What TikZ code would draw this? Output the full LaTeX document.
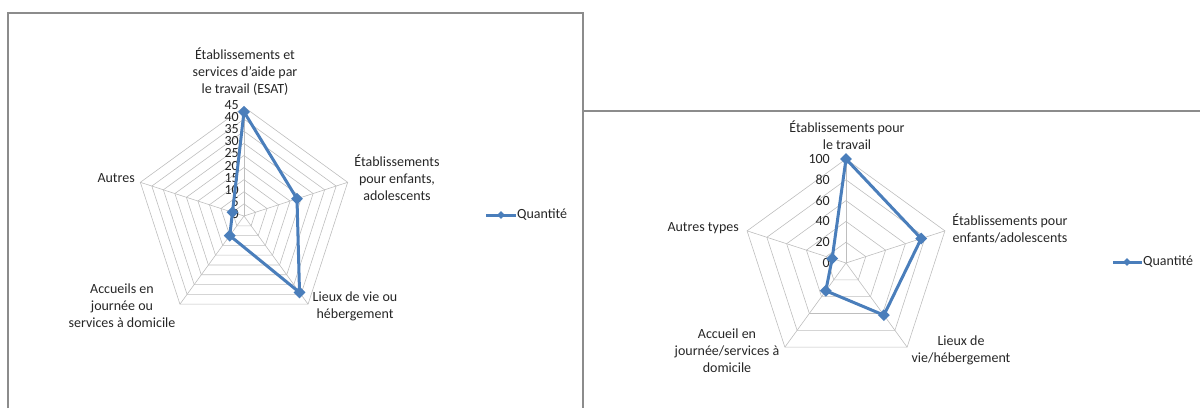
\documentclass[tikz,border=0pt]{standalone}
\usepackage{fontspec}
\setmainfont{Carlito}
\usetikzlibrary{shapes.geometric}

\definecolor{serieblue}{RGB}{74,126,187}
\definecolor{framegray}{RGB}{140,140,140}
\definecolor{webgray}{RGB}{190,190,190}

\tikzset{
  frame/.style={draw=framegray, line width=1.6pt},
  web/.style={draw=webgray, line width=0.6pt},
  series/.style={draw=serieblue, line width=3pt, line join=round},
  mk/.style={diamond, fill=serieblue, inner sep=0pt, minimum size=12pt},
  legmk/.style={diamond, fill=serieblue, inner sep=0pt, minimum size=8pt},
  catlabel/.style={align=center, inner sep=0pt, text=black!85, font=\fontsize{14}{17}\selectfont},
  ticklabel/.style={anchor=east, inner sep=0pt, text=black!85, font=\fontsize{14}{17}\selectfont},
}

\begin{document}
\begin{tikzpicture}[x=1pt,y=1pt]
\useasboundingbox (0,0) rectangle (1200,-408);
\draw[frame] (8,-408) -- (8,-13) -- (583,-13) -- (583,-408);
\draw[frame] (583,-111) -- (1200,-111);

% first radar (max 45)
\begin{scope}[shift={(244,-216)}]
\coordinate (lc) at (0,0);
\foreach \k in {1,...,9} {
  \pgfmathsetmacro\r{\k*109/9}
  \draw[web] (90:\r) -- (18:\r) -- (-54:\r) -- (-126:\r) -- (162:\r) -- cycle;
}
\foreach \a/\n in {90/1, 18/2, -54/3, -126/4, 162/5} {
  \coordinate (lv\n) at (\a:109);
  \draw[web] (lc) -- (lv\n);
}
\foreach \k in {0,...,9} {
  \pgfmathtruncatemacro\v{5*\k}
  \node[ticklabel] (lt\k) at (-5,\k*109/9+2) {\v};
}
\foreach \a/\v/\n in {90/43/1, 18/23/2, -54/39/3, -126/10/4, 162/5/5} {
  \pgfmathsetmacro\r{\v*109/45}
  \coordinate (ld\n) at (\a:\r);
}
\draw[series] (ld1) -- (ld2) -- (ld3) -- (ld4) -- (ld5) -- cycle;
\foreach \n in {1,...,5}
  \node[mk] (lm\n) at (ld\n) {};
\end{scope}

\node[catlabel] (lesat) at (245,-72) {Établissements et\\services d’aide par\\le travail (ESAT)};
\node[catlabel] (lenf) at (397,-178) {Établissements\\pour enfants,\\adolescents};
\node[catlabel] (llieux) at (355,-306) {Lieux de vie ou\\hébergement};
\node[catlabel] (lacc) at (122,-306) {Accueils en\\journée ou\\services à domicile};
\node[catlabel, anchor=east] (laut) at (135,-178) {Autres};

\coordinate (lq0) at (486,-215);
\node[catlabel, anchor=west, inner sep=1pt] (lq) at (516,-215) {Quantité};
\draw[series] (lq0) -- (lq.west);
\node[legmk] (lqm) at (501,-215) {};

% second radar (max 100)
\begin{scope}[shift={(846,-263)}]
\coordinate (rc) at (0,0);
\foreach \k in {1,...,5} {
  \pgfmathsetmacro\r{\k*104/5}
  \draw[web] (90:\r) -- (18:\r) -- (-54:\r) -- (-126:\r) -- (162:\r) -- cycle;
}
\foreach \a/\n in {90/1, 18/2, -54/3, -126/4, 162/5} {
  \coordinate (rv\n) at (\a:104);
  \draw[web] (rc) -- (rv\n);
}
\foreach \k in {0,...,5} {
  \pgfmathtruncatemacro\v{20*\k}
  \node[ticklabel] (rt\k) at (-16,\k*104/5) {\v};
}
\foreach \a/\v/\n in {90/100/1, 18/76/2, -54/62/3, -126/33/4, 162/14/5} {
  \pgfmathsetmacro\r{\v*104/100}
  \coordinate (rd\n) at (\a:\r);
}
\draw[series] (rd1) -- (rd2) -- (rd3) -- (rd4) -- (rd5) -- cycle;
\foreach \n in {1,...,5}
  \node[mk] (rm\n) at (rd\n) {};
\end{scope}

\node[catlabel] (rtrav) at (847,-135) {Établissements pour\\le travail};
\node[catlabel] (renf) at (1010,-228) {Établissements pour\\enfants/adolescents};
\node[catlabel] (rlieux) at (961,-350) {Lieux de\\vie/hébergement};
\node[catlabel] (racc) at (727,-351) {Accueil en\\journée/services à\\domicile};
\node[catlabel, anchor=east] (raut) at (739,-228) {Autres types};

\coordinate (rq0) at (1113,-262);
\node[catlabel, anchor=west, inner sep=1pt] (rq) at (1142,-262) {Quantité};
\draw[series] (rq0) -- (rq.west);
\node[legmk] (rqm) at (1127,-262) {};
\end{tikzpicture}
\end{document}
